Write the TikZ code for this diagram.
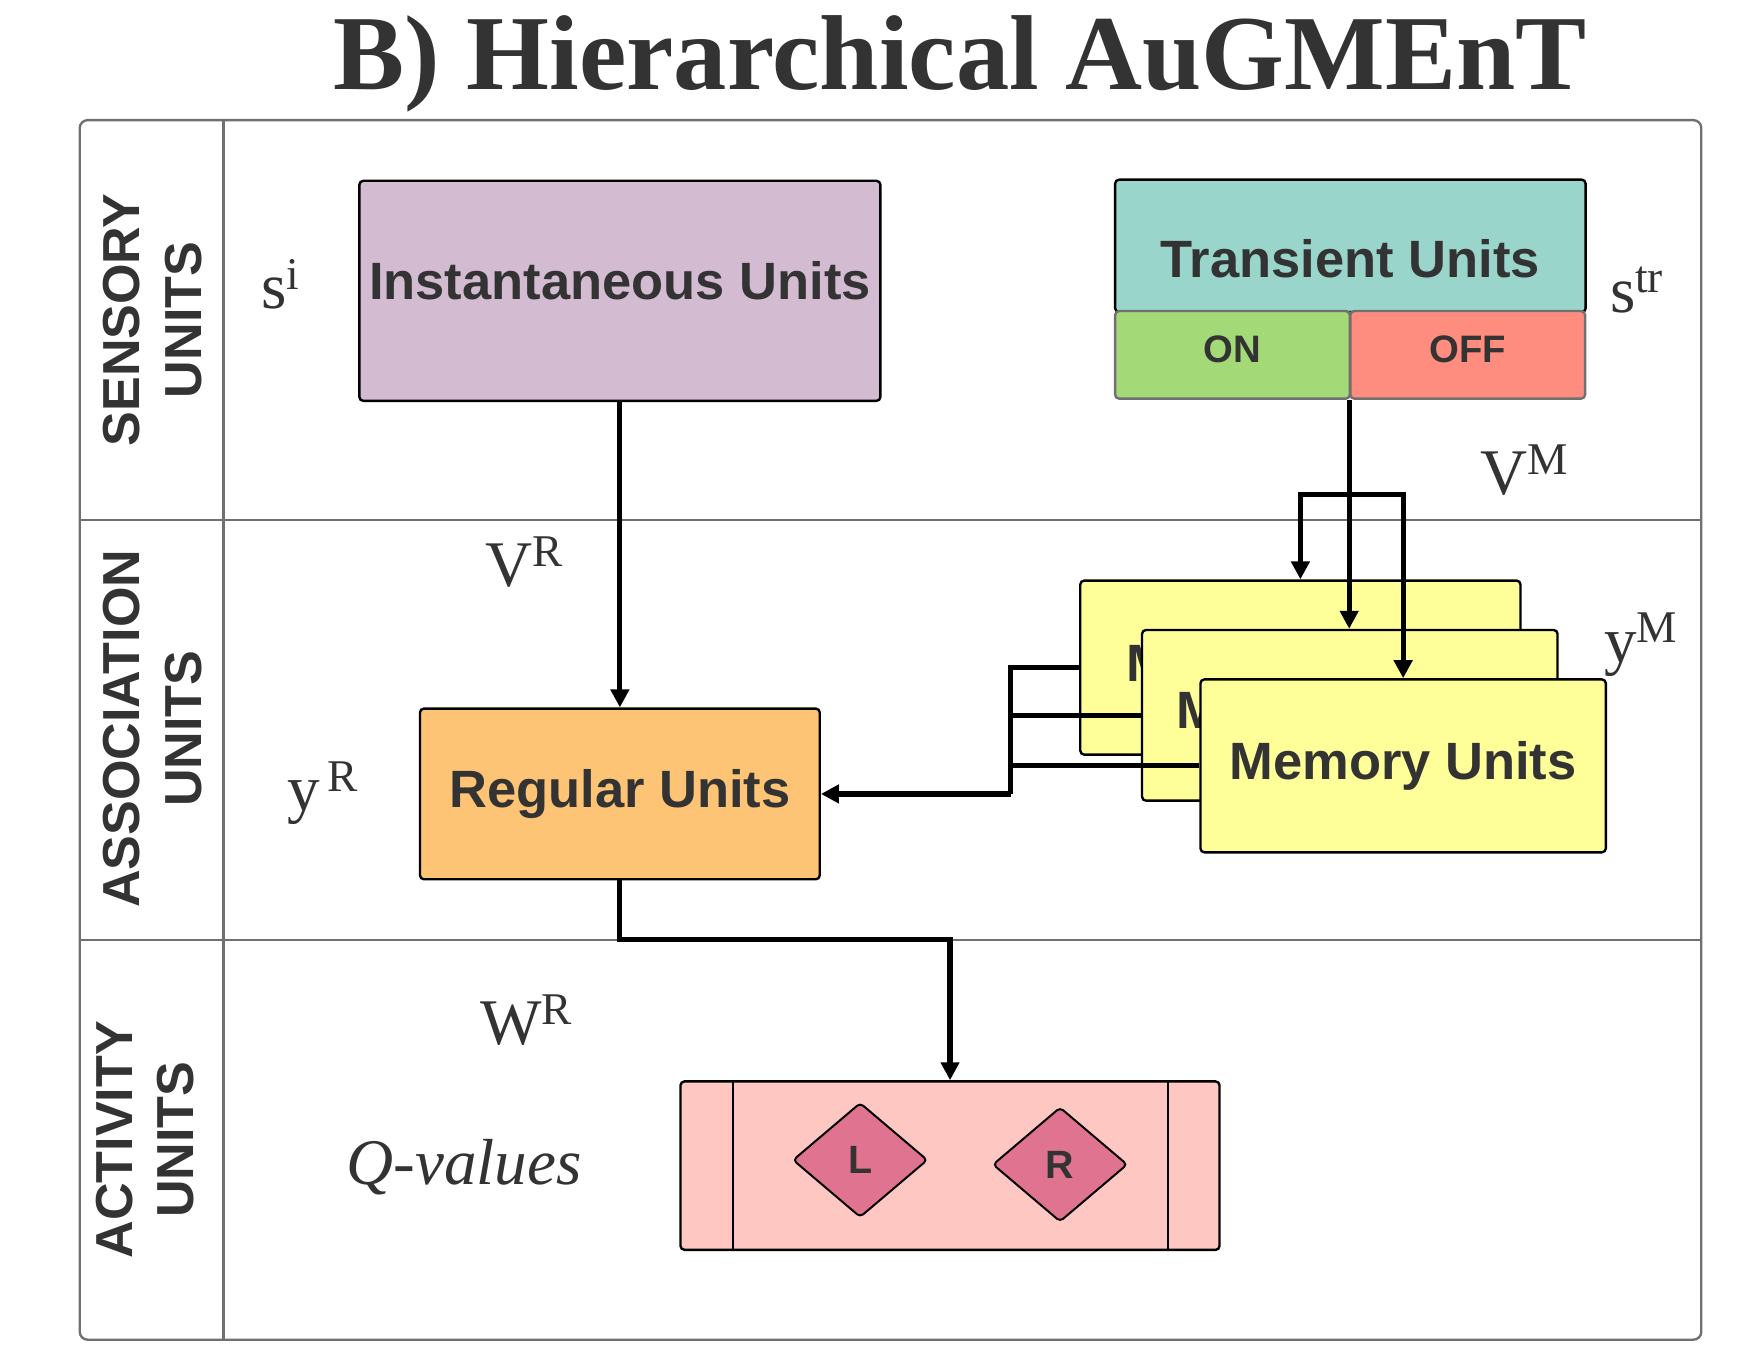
\documentclass[tikz,border=0pt]{standalone}
\usepackage{fontspec}
\setmainfont{Liberation Serif}
\setsansfont{Liberation Sans}
\usetikzlibrary{arrows.meta,shapes.geometric}
\definecolor{txt}{RGB}{51,51,51}
\definecolor{lanegray}{RGB}{112,112,112}
\definecolor{instc}{RGB}{211,188,210}
\definecolor{trnc}{RGB}{153,213,202}
\definecolor{onc}{RGB}{163,217,119}
\definecolor{offc}{RGB}{255,141,127}
\definecolor{memc}{RGB}{255,255,153}
\definecolor{regc}{RGB}{253,196,117}
\definecolor{qvc}{RGB}{255,199,194}
\definecolor{qac}{RGB}{224,116,144}
\newcommand{\unitsym}[2]{{\fontsize{16.5}{16.5}\selectfont #1}\raisebox{5pt}{\fontsize{11.5}{11.5}\selectfont #2}}
\begin{document}
\begin{tikzpicture}[
  lanebox/.style={draw=lanegray, line width=0.6pt},
  lane/.style={rotate=90, align=center, text=txt, inner sep=0pt, font=\sffamily\bfseries\fontsize{13.2}{15.6}\selectfont},
  box/.style={draw=black, line width=0.6pt, rounded corners=1pt, inner sep=0pt, text=txt, font=\sffamily\bfseries\fontsize{13.3}{15}\selectfont},
  half/.style={box, draw=lanegray, minimum width=2.09cm, minimum height=0.78cm, text depth=0.1cm, font=\sffamily\bfseries\fontsize{9.7}{11}\selectfont},
  act/.style={diamond, draw=black, line width=0.5pt, fill=qac, rounded corners=1pt, inner sep=0pt, minimum width=1.2cm, minimum height=1.02cm, text=txt, font=\sffamily\bfseries\fontsize{10}{10}\selectfont},
  sym/.style={anchor=base west, text=txt, inner sep=0pt},
  wire/.style={line width=1.3pt},
  conn/.style={wire, -{Triangle[length=0.16cm,width=0.16cm]}}
]
\useasboundingbox (0,0) rectangle (15.673,-12.113);
\node[anchor=base, text=txt, font=\bfseries\fontsize{27}{27}\selectfont] (title) at (8.55,-0.80) {B) Hierarchical AuGMEnT};
\draw[lanebox, rounded corners=2pt] (0.71,-1.07) rectangle (15.15,-11.93);
\draw[lanebox] (1.99,-1.07) -- (1.99,-11.93);
\draw[lanebox] (0.71,-4.63) -- (15.15,-4.63);
\draw[lanebox] (0.71,-8.37) -- (15.15,-8.37);
\node[lane] (sens) at (1.36,-2.85) {SENSORY\\UNITS};
\node[lane] (assoc) at (1.36,-6.49) {ASSOCIATION\\UNITS};
\node[lane] (actv) at (1.29,-10.15) {ACTIVITY\\UNITS};
\node[box, fill=instc, minimum width=4.64cm, minimum height=1.96cm, text depth=0.18cm] (inst) at (5.52,-2.59) {Instantaneous Units};
\node[box, fill=trnc, minimum width=4.19cm, minimum height=1.18cm, text height=0.56cm] (trn) at (12.025,-2.19) {Transient Units};
\node[half, fill=onc] (ton) at (10.975,-3.16) {ON};
\node[half, fill=offc] (toff) at (13.07,-3.16) {OFF};
\node[box, fill=memc, minimum width=3.92cm, minimum height=1.55cm] (mem1) at (11.58,-5.945) {Memory Units};
\node[box, fill=memc, minimum width=3.70cm, minimum height=1.52cm] (mem2) at (12.02,-6.37) {Memory Units};
\node[box, fill=memc, minimum width=3.61cm, minimum height=1.54cm] (mem3) at (12.495,-6.82) {Memory Units};
\node[box, fill=regc, minimum width=3.56cm, minimum height=1.52cm] (reg) at (5.52,-7.07) {Regular Units};
\node[box, fill=qvc, minimum width=4.80cm, minimum height=1.50cm] (qv) at (8.46,-10.38) {};
\draw[line width=0.5pt] ([xshift=0.48cm]qv.north west) -- ([xshift=0.48cm]qv.south west);
\draw[line width=0.5pt] ([xshift=-0.47cm]qv.north east) -- ([xshift=-0.47cm]qv.south east);
\node[act] (ql) at (7.66,-10.33) {L};
\node[act] (qr) at (9.44,-10.37) {R};
\node[sym] (si) at (2.32,-2.75) {\unitsym{s}{i}};
\node[sym] (str) at (14.33,-2.78) {\unitsym{s}{tr}};
\node[sym] (vm) at (13.18,-4.40) {\unitsym{V}{M}};
\node[sym] (vr) at (4.32,-5.22) {\unitsym{V}{R}};
\node[sym] (yr) at (2.55,-7.22) {\unitsym{y}{\kern2pt R}};
\node[sym] (ym) at (14.28,-5.90) {\unitsym{y}{M}};
\node[sym] (wr) at (4.27,-9.30) {\unitsym{W}{R}};
\node[sym, font=\itshape\fontsize{16.5}{16.5}\selectfont] (qval) at (3.08,-10.55) {Q-values};
\draw[conn] (inst) -- (reg);
\coordinate (rq) at (5.52,-8.37);
\draw[conn] (reg.south) -- (rq) -| (qv.north);
\draw[conn] (toff.south west) -- (toff.south west |- mem2.north);
\coordinate (tb) at (12.02,-4.40);
\draw[conn] (tb) -| (mem1.north);
\draw[conn] (tb) -| (mem3.north);
\coordinate (mj) at (9.00,-7.07);
\draw[wire] (mem1.west) -| (mj);
\draw[wire] (mem2.west) -- (mem2.west -| mj);
\draw[wire] (mem3.west) -- (mem3.west -| mj);
\draw[conn] (mj) -- (reg.east);
\end{tikzpicture}
\end{document}
